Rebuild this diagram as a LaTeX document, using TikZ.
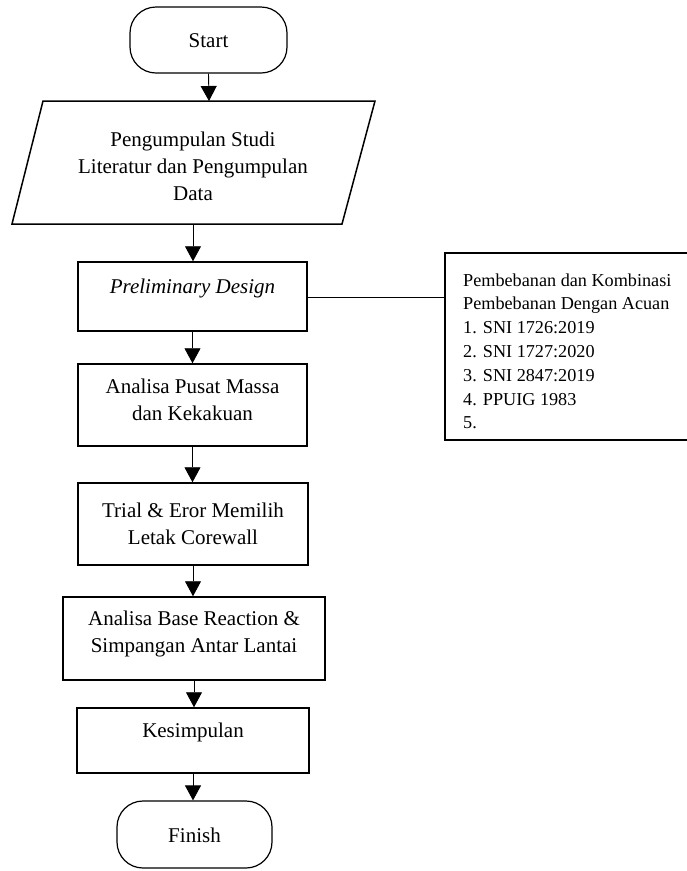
\documentclass[tikz,border=0pt]{standalone}
\usepackage{fontspec}
\setmainfont{Liberation Serif}
\usetikzlibrary{arrows.meta}
\begin{document}
\begin{tikzpicture}[x=1pt,y=-1pt,
  box/.style={draw,line width=1.5pt,rectangle,inner sep=0pt},
  term/.style={draw,line width=1.2pt,rectangle,rounded corners=26pt,inner sep=0pt},
  txt/.style={inner sep=0pt,align=center,font=\fontsize{21}{27}\selectfont},
  conn/.style={line width=0.9pt,-{Triangle[width=16pt,length=15pt]}},
  link/.style={line width=0.9pt}]
\useasboundingbox (0,0) rectangle (687,871);
% start
\node[term,minimum width=157pt,minimum height=66pt] (start) at (208.5,40) {};
\node[txt] (tstart) at (208.5,41) {Start};
% parallelogram
\draw[line width=1.5pt] (43,101) -- (375,101) -- (342,224) -- (12,224) -- cycle;
\coordinate (paratop) at (209,101);
\coordinate (parabot) at (193,224);
\node[txt] (tpara) at (193,166) {Pengumpulan Studi\\Literatur dan Pengumpulan\\Data};
% boxes
\node[box,minimum width=229pt,minimum height=69pt] (prelim) at (192.5,296.5) {};
\node[txt] (tprelim) at (192.5,288) {\itshape Preliminary Design};
\node[box,minimum width=229pt,minimum height=82pt] (pusat) at (192.5,405) {};
\node[txt] (tpusat) at (192.5,400) {Analisa Pusat Massa\\dan Kekakuan};
\node[box,minimum width=230pt,minimum height=82pt] (trial) at (193,524) {};
\node[txt] (ttrial) at (193,523.5) {Trial \& Eror Memilih\\Letak Corewall};
\node[box,minimum width=262pt,minimum height=83pt] (base) at (194,638.5) {};
\node[txt] (tbase) at (194,633.5) {Analisa Base Reaction \&\\Simpangan Antar Lantai};
\node[box,minimum width=232pt,minimum height=65pt] (kes) at (193,740.5) {};
\node[txt] (tkes) at (193,732) {Kesimpulan};
\node[term,minimum width=155pt,minimum height=67pt] (finish) at (194.5,834.5) {};
\node[txt] (tfinish) at (194.5,835) {Finish};
% right box
\node[box,minimum width=260pt,minimum height=187pt] (ref) at (575,346.5) {};
\node[inner sep=0pt,anchor=north west,align=left,font=\fontsize{18.2}{23.8}\selectfont] (tref) at (463,269.3)
 {\strut Pembebanan dan Kombinasi\\Pembebanan Dengan Acuan\\1. SNI 1726:2019\\2. SNI 1727:2020\\3. SNI 2847:2019\\4. PPUIG 1983\\5.};
% connectors
\draw[conn] (start.south) -- (paratop);
\draw[conn] (parabot) -- (parabot |- prelim.north);
\draw[conn] (prelim.south) -- (prelim.south |- pusat.north);
\draw[conn] (pusat.south) -- (pusat.south |- trial.north);
\draw[conn] (trial.south) -- (trial.south |- base.north);
\draw[conn] (base.south) -- (base.south |- kes.north);
\draw[conn] (kes.south) -- (kes.south |- finish.north);
\draw[link] (prelim.east |- 0,297) -- (ref.west |- 0,297);
\end{tikzpicture}
\end{document}
